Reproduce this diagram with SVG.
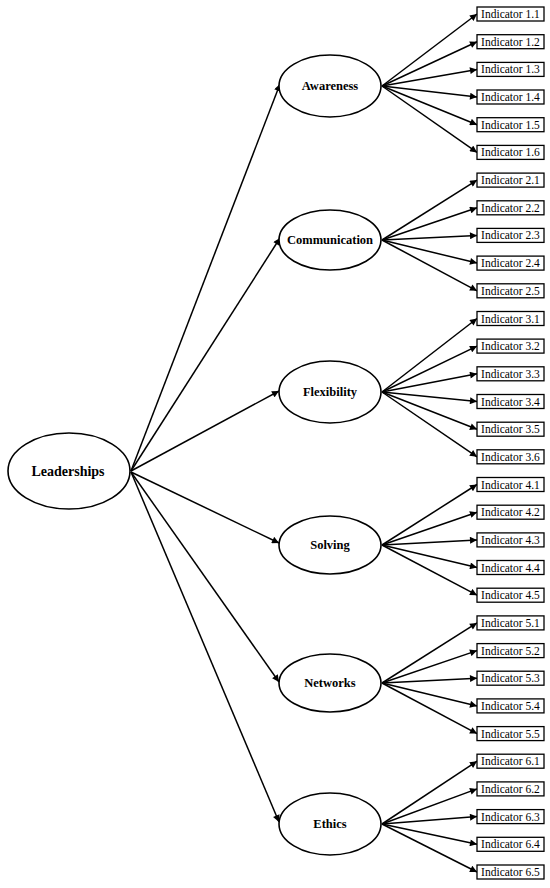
<svg xmlns="http://www.w3.org/2000/svg" width="550" height="888" viewBox="0 0 550 888">
<defs>
<marker id="ah" viewBox="0 0 10 10" refX="10" refY="5" markerWidth="8" markerHeight="7" markerUnits="userSpaceOnUse" orient="auto">
<path d="M0,0 L10,5 L0,10 z" fill="#000"/>
</marker>
<style>
.ell{fill:#fff;stroke:#000;stroke-width:1.6}
.box{fill:#fff;stroke:#000;stroke-width:1.3}
text{font-family:'Liberation Serif','Times New Roman',Times,serif}
.lbl{font-weight:bold;font-size:12.5px;text-anchor:middle;dominant-baseline:central}
.ind{font-size:11.5px;text-anchor:middle;dominant-baseline:central}
.con line{stroke:#000;stroke-width:1.5;marker-end:url(#ah)}
</style>
</defs>
<rect width="550" height="888" fill="#fff"/>
<g id="connectors" class="con">
<line x1="131" y1="471" x2="280" y2="84"/>
<line x1="131" y1="471" x2="280" y2="238"/>
<line x1="131" y1="471" x2="279" y2="391"/>
<line x1="131" y1="472" x2="279" y2="543"/>
<line x1="131" y1="472" x2="279" y2="682"/>
<line x1="131" y1="472" x2="279" y2="822"/>
<line x1="382" y1="86" x2="477" y2="14"/>
<line x1="382" y1="86" x2="477" y2="41.7"/>
<line x1="382" y1="86" x2="477" y2="69.4"/>
<line x1="382" y1="86" x2="477" y2="97"/>
<line x1="382" y1="86" x2="477" y2="124.7"/>
<line x1="382" y1="86" x2="477" y2="152.4"/>
<line x1="382" y1="240" x2="477" y2="180.1"/>
<line x1="382" y1="240" x2="477" y2="207.8"/>
<line x1="382" y1="240" x2="477" y2="235.4"/>
<line x1="382" y1="240" x2="477" y2="263.1"/>
<line x1="382" y1="240" x2="477" y2="290.8"/>
<line x1="382" y1="392" x2="477" y2="318.5"/>
<line x1="382" y1="392" x2="477" y2="346.1"/>
<line x1="382" y1="392" x2="477" y2="373.8"/>
<line x1="382" y1="392" x2="477" y2="401.5"/>
<line x1="382" y1="392" x2="477" y2="429.2"/>
<line x1="382" y1="392" x2="477" y2="456.8"/>
<line x1="382" y1="545" x2="477" y2="484.5"/>
<line x1="382" y1="545" x2="477" y2="512.2"/>
<line x1="382" y1="545" x2="477" y2="539.9"/>
<line x1="382" y1="545" x2="477" y2="567.5"/>
<line x1="382" y1="545" x2="477" y2="595.2"/>
<line x1="382" y1="683" x2="477" y2="622.9"/>
<line x1="382" y1="683" x2="477" y2="650.6"/>
<line x1="382" y1="683" x2="477" y2="678.2"/>
<line x1="382" y1="683" x2="477" y2="705.9"/>
<line x1="382" y1="683" x2="477" y2="733.6"/>
<line x1="382" y1="824" x2="477" y2="761.2"/>
<line x1="382" y1="824" x2="477" y2="788.9"/>
<line x1="382" y1="824" x2="477" y2="816.6"/>
<line x1="382" y1="824" x2="477" y2="844.3"/>
<line x1="382" y1="824" x2="477" y2="872"/>
</g>
<g id="leaderships"><ellipse class="ell" cx="69" cy="471" rx="61" ry="38"/><text class="lbl" x="68" y="471" style="font-size:14px">Leaderships</text></g>
<g id="awareness"><ellipse class="ell" cx="330" cy="86" rx="51" ry="31"/><text class="lbl" x="330" y="86">Awareness</text></g>
<g id="communication"><ellipse class="ell" cx="330" cy="240" rx="51" ry="30"/><text class="lbl" x="330" y="240">Communication</text></g>
<g id="flexibility"><ellipse class="ell" cx="330" cy="392" rx="51" ry="31"/><text class="lbl" x="330" y="392">Flexibility</text></g>
<g id="solving"><ellipse class="ell" cx="330" cy="545" rx="51" ry="29"/><text class="lbl" x="330" y="545">Solving</text></g>
<g id="networks"><ellipse class="ell" cx="330" cy="683" rx="51" ry="29"/><text class="lbl" x="330" y="683">Networks</text></g>
<g id="ethics"><ellipse class="ell" cx="330" cy="824" rx="51" ry="31"/><text class="lbl" x="330" y="824">Ethics</text></g>
<g id="ind1-1"><rect class="box" x="477" y="7" width="67" height="14"/><text class="ind" x="510.5" y="14">Indicator 1.1</text></g>
<g id="ind1-2"><rect class="box" x="477" y="34.7" width="67" height="14"/><text class="ind" x="510.5" y="41.7">Indicator 1.2</text></g>
<g id="ind1-3"><rect class="box" x="477" y="62.4" width="67" height="14"/><text class="ind" x="510.5" y="69.4">Indicator 1.3</text></g>
<g id="ind1-4"><rect class="box" x="477" y="90" width="67" height="14"/><text class="ind" x="510.5" y="97">Indicator 1.4</text></g>
<g id="ind1-5"><rect class="box" x="477" y="117.7" width="67" height="14"/><text class="ind" x="510.5" y="124.7">Indicator 1.5</text></g>
<g id="ind1-6"><rect class="box" x="477" y="145.4" width="67" height="14"/><text class="ind" x="510.5" y="152.4">Indicator 1.6</text></g>
<g id="ind2-1"><rect class="box" x="477" y="173.1" width="67" height="14"/><text class="ind" x="510.5" y="180.1">Indicator 2.1</text></g>
<g id="ind2-2"><rect class="box" x="477" y="200.8" width="67" height="14"/><text class="ind" x="510.5" y="207.8">Indicator 2.2</text></g>
<g id="ind2-3"><rect class="box" x="477" y="228.4" width="67" height="14"/><text class="ind" x="510.5" y="235.4">Indicator 2.3</text></g>
<g id="ind2-4"><rect class="box" x="477" y="256.1" width="67" height="14"/><text class="ind" x="510.5" y="263.1">Indicator 2.4</text></g>
<g id="ind2-5"><rect class="box" x="477" y="283.8" width="67" height="14"/><text class="ind" x="510.5" y="290.8">Indicator 2.5</text></g>
<g id="ind3-1"><rect class="box" x="477" y="311.5" width="67" height="14"/><text class="ind" x="510.5" y="318.5">Indicator 3.1</text></g>
<g id="ind3-2"><rect class="box" x="477" y="339.1" width="67" height="14"/><text class="ind" x="510.5" y="346.1">Indicator 3.2</text></g>
<g id="ind3-3"><rect class="box" x="477" y="366.8" width="67" height="14"/><text class="ind" x="510.5" y="373.8">Indicator 3.3</text></g>
<g id="ind3-4"><rect class="box" x="477" y="394.5" width="67" height="14"/><text class="ind" x="510.5" y="401.5">Indicator 3.4</text></g>
<g id="ind3-5"><rect class="box" x="477" y="422.2" width="67" height="14"/><text class="ind" x="510.5" y="429.2">Indicator 3.5</text></g>
<g id="ind3-6"><rect class="box" x="477" y="449.8" width="67" height="14"/><text class="ind" x="510.5" y="456.8">Indicator 3.6</text></g>
<g id="ind4-1"><rect class="box" x="477" y="477.5" width="67" height="14"/><text class="ind" x="510.5" y="484.5">Indicator 4.1</text></g>
<g id="ind4-2"><rect class="box" x="477" y="505.2" width="67" height="14"/><text class="ind" x="510.5" y="512.2">Indicator 4.2</text></g>
<g id="ind4-3"><rect class="box" x="477" y="532.9" width="67" height="14"/><text class="ind" x="510.5" y="539.9">Indicator 4.3</text></g>
<g id="ind4-4"><rect class="box" x="477" y="560.5" width="67" height="14"/><text class="ind" x="510.5" y="567.5">Indicator 4.4</text></g>
<g id="ind4-5"><rect class="box" x="477" y="588.2" width="67" height="14"/><text class="ind" x="510.5" y="595.2">Indicator 4.5</text></g>
<g id="ind5-1"><rect class="box" x="477" y="615.9" width="67" height="14"/><text class="ind" x="510.5" y="622.9">Indicator 5.1</text></g>
<g id="ind5-2"><rect class="box" x="477" y="643.6" width="67" height="14"/><text class="ind" x="510.5" y="650.6">Indicator 5.2</text></g>
<g id="ind5-3"><rect class="box" x="477" y="671.2" width="67" height="14"/><text class="ind" x="510.5" y="678.2">Indicator 5.3</text></g>
<g id="ind5-4"><rect class="box" x="477" y="698.9" width="67" height="14"/><text class="ind" x="510.5" y="705.9">Indicator 5.4</text></g>
<g id="ind5-5"><rect class="box" x="477" y="726.6" width="67" height="14"/><text class="ind" x="510.5" y="733.6">Indicator 5.5</text></g>
<g id="ind6-1"><rect class="box" x="477" y="754.2" width="67" height="14"/><text class="ind" x="510.5" y="761.2">Indicator 6.1</text></g>
<g id="ind6-2"><rect class="box" x="477" y="781.9" width="67" height="14"/><text class="ind" x="510.5" y="788.9">Indicator 6.2</text></g>
<g id="ind6-3"><rect class="box" x="477" y="809.6" width="67" height="14"/><text class="ind" x="510.5" y="816.6">Indicator 6.3</text></g>
<g id="ind6-4"><rect class="box" x="477" y="837.3" width="67" height="14"/><text class="ind" x="510.5" y="844.3">Indicator 6.4</text></g>
<g id="ind6-5"><rect class="box" x="477" y="865" width="67" height="14"/><text class="ind" x="510.5" y="872">Indicator 6.5</text></g>
</svg>
